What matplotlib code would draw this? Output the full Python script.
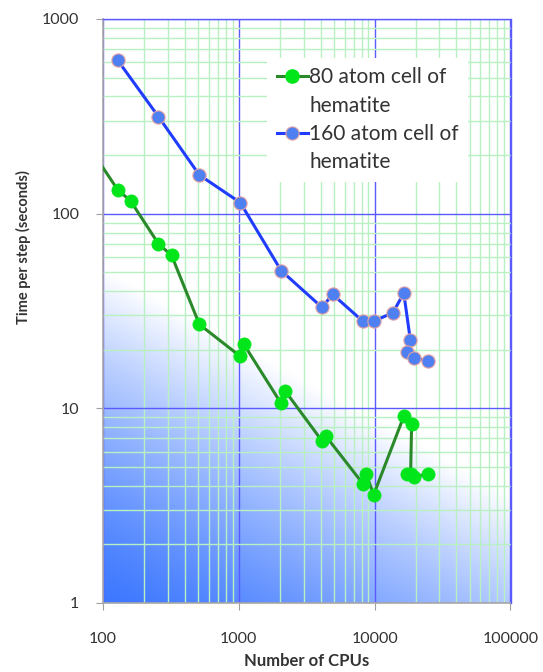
import numpy as np
import matplotlib
matplotlib.use("Agg")
import matplotlib.pyplot as plt
from matplotlib.lines import Line2D
from matplotlib.ticker import LogLocator, NullFormatter, FixedLocator, FixedFormatter

plt.rcParams['font.family'] = ['Lato', 'DejaVu Sans']

# ---- data ----
cpus_80 = [64, 128, 160, 256, 320, 512, 1024, 1090, 2048, 2190, 4096, 4370,
           8192, 8650, 9830, 16384, 18700, 18400, 17200, 19600, 24600]
time_80 = [275, 133, 116, 70, 61, 27, 18.5, 21.3, 10.6, 12.3, 6.8, 7.2,
           4.1, 4.6, 3.6, 9.1, 8.3, 4.6, 4.6, 4.45, 4.6]

cpus_160 = [128, 256, 512, 1024, 2048, 4096, 4900, 8192, 9830, 13600, 16384,
            18300, 17200, 19600, 24600]
time_160 = [615, 315, 158, 114, 51, 33, 38.5, 28, 28, 31, 39,
            22.5, 19.5, 18.2, 17.5]

label_80 = ["80 atom cell of", "hematite"]
label_160 = ["160 atom cell of", "hematite"]

x_ticks = [100, 1000, 10000, 100000]
x_tick_labels = ["100", "1000", "10000", "100000"]
y_ticks = [1, 10, 100, 1000]
y_tick_labels = ["1", "10", "100", "1000"]

W, H = 543, 672
fig = plt.figure(figsize=(W / 100, H / 100), dpi=100)
fig.patch.set_facecolor('white')

pos = [103 / W, 1 - 603 / H, (510.5 - 103) / W, (603 - 19) / H]

# background gradient axes
bg = fig.add_axes(pos, zorder=0)
bg.set_axis_off()
nx, ny = 400, 580
px = np.linspace(0, 407.5, nx)
py = np.linspace(0, 584, ny)
PX, PY = np.meshgrid(px, py)
t = PY / 335.0 + PX / 600.0
t = np.clip(t, 0, 1) ** 1.3
deep = np.array([0.24, 0.47, 1.0])
white = np.array([1.0, 1.0, 1.0])
img = deep[None, None, :] + (white - deep)[None, None, :] * t[..., None]
bg.imshow(img, origin='lower', extent=[0, 1, 0, 1], aspect='auto')
bg.set_xlim(0, 1)
bg.set_ylim(0, 1)

ax = fig.add_axes(pos, zorder=1)
ax.patch.set_alpha(0)
ax.set_xscale('log')
ax.set_yscale('log')
ax.set_xlim(100, 100000)
ax.set_ylim(1, 1000)

ax.xaxis.set_minor_locator(LogLocator(base=10, subs=np.arange(2, 10)))
ax.yaxis.set_minor_locator(LogLocator(base=10, subs=np.arange(2, 10)))
ax.xaxis.set_minor_formatter(NullFormatter())
ax.yaxis.set_minor_formatter(NullFormatter())
ax.xaxis.set_major_locator(FixedLocator(x_ticks))
ax.xaxis.set_major_formatter(FixedFormatter(x_tick_labels))
ax.yaxis.set_major_locator(FixedLocator(y_ticks))
ax.yaxis.set_major_formatter(FixedFormatter(y_tick_labels))

ax.grid(True, which='minor', color='#b8f0c2', lw=1.0, zorder=0.5)
ax.grid(True, which='major', color='#5a5aff', lw=1.0, zorder=0.6)
ax.set_axisbelow(True)

ax.tick_params(which='minor', length=0)
ax.tick_params(which='major', length=5, color='#a0a0a0', labelcolor='#333333',
               labelsize=11.5, direction='out')
ax.tick_params(axis='x', pad=16)
ax.tick_params(axis='y', pad=12)

for s in ['left', 'bottom']:
    ax.spines[s].set_color('#a8a8a8')
    ax.spines[s].set_linewidth(1.2)
for s in ['top', 'right']:
    ax.spines[s].set_color('#5a5aff')
    ax.spines[s].set_linewidth(1.0)

ax.plot(cpus_80, time_80, color='#2a8a2a', lw=2.2, marker='o', ms=9.5,
        mfc='#00e61a', mec='#00e61a', mew=0.5, zorder=3)
ax.plot(cpus_160, time_160, color='#1f3cff', lw=2.2, marker='o', ms=9.5,
        mfc='#4f80f2', mec='#e6a0a0', mew=0.8, zorder=4)

ax.set_xlabel("Number of CPUs", fontsize=12, fontweight='bold', color='#333333')
ax.set_ylabel("Time per step (seconds)", fontsize=10.5, fontweight='bold',
              color='#333333')
ax.xaxis.set_label_coords(0.5, -0.086)
ax.yaxis.set_label_coords(-0.176, 0.61)

h80 = Line2D([], [], color='#2a8a2a', lw=2.2, marker='o', ms=9.5,
             mfc='#00e61a', mec='#00e61a')
h160 = Line2D([], [], color='#1f3cff', lw=2.2, marker='o', ms=9.5,
              mfc='#4f80f2', mec='#e6a0a0', mew=0.8)
blank = Line2D([], [], linestyle='none', marker='none')
leg = ax.legend([h80, blank, h160, blank],
                [label_80[0], label_80[1], label_160[0], label_160[1]],
                loc='upper left', bbox_to_anchor=(0.378, 0.951),
                fontsize=15, frameon=True, facecolor='white', edgecolor='none',
                framealpha=1.0, fancybox=False, handlelength=1.5,
                handletextpad=0.05, labelspacing=0.4, borderpad=0.45)
for txt in leg.get_texts():
    txt.set_color('#333333')
leg.set_zorder(5)

fig.savefig("out.png", dpi=100)
